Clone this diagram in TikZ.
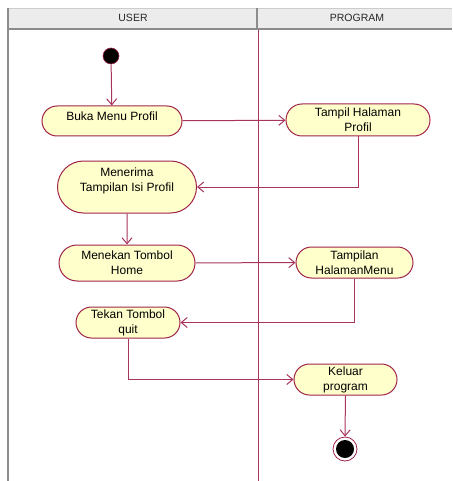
\documentclass[tikz,border=0pt]{standalone}
\usepackage{fontspec}
\setmainfont{Liberation Sans}
\usetikzlibrary{shapes.misc,arrows.meta}
\definecolor{flowline}{HTML}{A8355E}
\definecolor{actborder}{HTML}{A0244A}
\definecolor{actfill}{HTML}{FFFFCC}
\definecolor{headfill}{HTML}{ECECEC}
\definecolor{headline}{HTML}{8C8C8C}
\tikzset{
  activity/.style={rounded rectangle, draw=actborder, fill=actfill, line width=1pt,
    inner sep=0pt, align=center, font=\fontsize{12}{15}\selectfont, text=black},
  flow/.style={draw=flowline, line width=1pt,
    -{Straight Barb[length=6pt,width=10pt,line width=1pt]}},
  lanehead/.style={font=\fontsize{10.5}{12}\selectfont, text=black!85}
}
\begin{document}
\begin{tikzpicture}[x=1pt,y=-1pt]
\useasboundingbox (0,0) rectangle (452,481);
% swimlane header and frame
\fill[headfill] (7,8) rectangle (452,29);
\draw[black!20, line width=0.6pt] (7,8) -- (452,8);
\draw[headline, line width=2pt] (7,29) -- (452,29);
\draw[headline, line width=1.6pt] (8,8) -- (8,481);
\draw[headline, line width=1.2pt] (257,8) -- (257,29);
\node[lanehead] (userlane) at (133,18) {USER};
\node[lanehead] (proglane) at (357,18) {PROGRAM};
\draw[flowline, line width=1pt] (258,30) -- (258,481);
% start and end points
\node[circle, fill=black, draw=actborder, line width=0.6pt, minimum size=16pt, inner sep=0pt] (start) at (111,56) {};
\node[circle, draw=actborder, fill=white, line width=0.8pt, minimum size=24pt, inner sep=0pt] (stop) at (345,449) {};
\node[circle, fill=black, minimum size=18pt, inner sep=0pt] (stopdot) at (345,449) {};
% activities
\node[activity, minimum width=140pt, minimum height=30pt, text depth=9pt] (buka) at (112,121) {Buka Menu Profil};
\node[activity, minimum width=144pt, minimum height=32pt] (tampil) at (358,120) {Tampil Halaman\\Profil};
\node[activity, minimum width=139pt, minimum height=52pt] (menerima) at (127,187) {Menerima\\Tampilan Isi Profil\\\mbox{}};
\node[activity, minimum width=136pt, minimum height=36pt] (menekan) at (127,263) {Menekan Tombol\\Home};
\node[activity, minimum width=117pt, minimum height=31pt] (tampilan) at (354.5,262.5) {Tampilan\\HalamanMenu};
\node[activity, minimum width=104pt, minimum height=31pt] (tekan) at (128,322.5) {Tekan Tombol\\quit};
\node[activity, minimum width=103pt, minimum height=31pt] (keluar) at (345.5,379.5) {Keluar\\program};
% control flow
\draw[flow] (start) -- (buka);
\draw[flow] (buka) -- (tampil);
\draw[flow] (tampil.south) |- (menerima.east);
\draw[flow] (menerima) -- (menekan);
\draw[flow] (menekan) -- (tampilan);
\draw[flow] (tampilan.south) |- (tekan.east);
\draw[flow] (tekan.south) |- (keluar.west);
\draw[flow] (keluar) -- (stop);
\end{tikzpicture}
\end{document}
